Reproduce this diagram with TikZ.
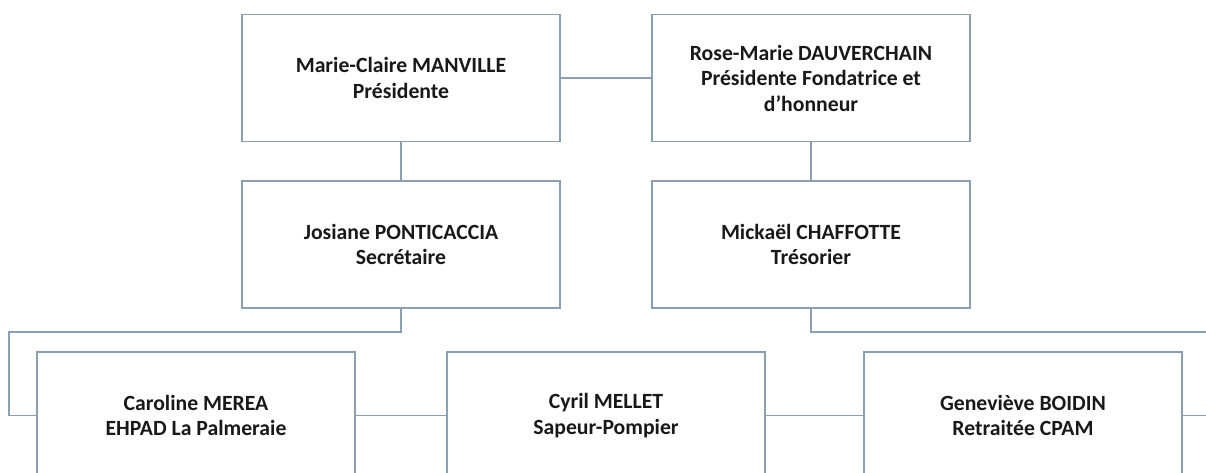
\documentclass[tikz,border=0pt]{standalone}
\usepackage{fontspec}
\setmainfont{Carlito}
\definecolor{linec}{RGB}{138,160,178}
\definecolor{txtc}{RGB}{25,25,25}
\begin{document}
\begin{tikzpicture}[x=1pt,y=-1pt,
  box/.style={draw=linec,line width=1.7pt,fill=white,rectangle,minimum width=318pt,minimum height=127pt,
    inner sep=0pt,align=center,text=txtc,font=\fontsize{21.7}{25.5}\selectfont\bfseries},
  conn/.style={draw=linec,line width=1.7pt}]
\useasboundingbox (0,0) rectangle (1206,473);
\clip (0,0) rectangle (1206,473);
\fill[white] (0,0) rectangle (1206,473);
\node[box] (mc) at (401,78) {Marie-Claire MANVILLE\\Présidente};
\node[box] (rm) at (811,78) {Rose-Marie DAUVERCHAIN\\Présidente Fondatrice et\\d’honneur};
\node[box] (jp) at (401,244.5) {Josiane PONTICACCIA\\Secrétaire};
\node[box] (mch) at (811,244.5) {Mickaël CHAFFOTTE\\Trésorier};
\node[box] (cm) at (196,415.5) {Caroline MEREA\\EHPAD La Palmeraie};
\node[box] (cy) at (606,415.5) {Cyril MELLET\\Sapeur-Pompier};
\node[box] (gb) at (1023,415.5) {Geneviève BOIDIN\\Retraitée CPAM};
\coordinate (l1) at (9,332);
\coordinate (l2) at (9,415.5);
\coordinate (r1) at (1220,332);
\coordinate (r2) at (1220,415.5);
\draw[conn] (mc.east) -- (rm.west);
\draw[conn] (mc.south) -- (jp.north);
\draw[conn] (rm.south) -- (mch.north);
\draw[conn] (jp.south) |- (l1) -- (l2) -- (cm.west);
\draw[conn] (mch.south) |- (r1) -- (r2) -- (gb.east);
\draw[conn] (cm.east) -- (cy.west);
\draw[conn] (cy.east) -- (gb.west);
\end{tikzpicture}
\end{document}
